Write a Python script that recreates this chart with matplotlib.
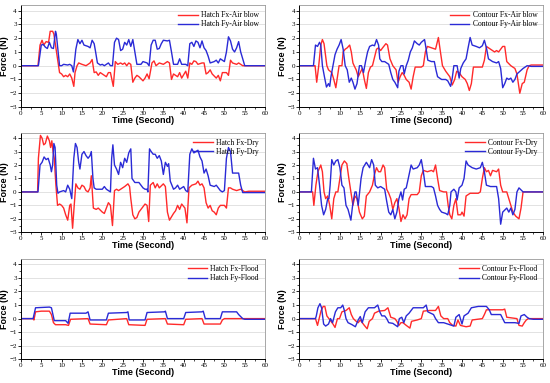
import numpy as np
import matplotlib.pyplot as plt
from matplotlib.ticker import MultipleLocator

# (time, force) points
hatch_air_fx = [(0,0),(4.2,0),(4.7,1.5),(5.2,1.85),(5.6,1.5),(6.2,1.75),(6.8,1.7),(7.2,2.5),(7.8,2.5),(8.1,2.3),
    (9.5,-0.5),(10,-0.6),(10.5,-0.8),(11,-0.7),(11.5,-0.8),(12,-0.6),(12.5,-0.9),(13,-1.5),(13.3,-0.5),(13.8,0.0),
    (14.2,0.2),(15,0.1),(16,0.0),(17,0.2),(17.5,0.45),(18,-0.5),(18.5,-0.45),(19,-0.7),(19.5,-0.5),(20,-0.6),(21,-0.8),
    (21.5,-0.5),(22,-0.5),(22.7,-1.5),(23.2,0.3),(23.8,0.1),(24.5,0.2),(25,0.1),(25.5,0.2),(26,0.0),(26.5,0.2),(27,0.1),
    (27.5,-1.2),(28,-0.9),(28.5,-0.7),(29,-0.8),(30,-1.1),(30.5,-0.9),(31,-0.6),(31.5,-0.95),(32.2,0.2),(32.7,0.35),
    (33.2,0.0),(34,0.2),(35,0.1),(36,0.3),(36.5,0.2),(37,-1.0),(37.5,-0.6),(38,-0.7),(38.5,-0.8),(39,-0.5),(39.5,-0.9),
    (40.5,-0.4),(41,-0.9),(41.5,0.2),(42,0.1),(42.5,0.35),(43,0.3),(43.5,0.1),(44.5,0.2),(45,0.2),(45.5,-0.6),(46,-0.5),
    (46.5,-0.3),(47,-0.6),(48,-0.9),(48.5,-0.7),(49,-1.1),(49.5,-0.5),(50.5,-0.5),(51,-0.7),(51.5,0.4),(52,0.2),(53,0.1),
    (53.5,0.2),(54.5,0.0),(60,0.0)]
hatch_air_fy = [(0,0),(4.3,0),(5,1.5),(5.5,1.55),(6,1.35),(6.5,1.25),(7,1.7),(7.5,1.3),(8,1.25),(8.5,2.5),(8.7,2.3),
    (9.5,0.0),(10,0.0),(10.5,0.1),(11.5,0.05),(12,0.1),(12.5,0.0),(12.9,-0.45),(13.5,1.2),(14,1.9),(14.5,1.6),(15,1.85),
    (15.5,1.5),(16.5,1.4),(17,1.3),(17.5,1.85),(18,1.6),(18.3,1.1),(18.8,0.2),(19.5,0.05),(20,0.1),(20.5,0.0),(21.5,0.2),
    (22,0.0),(22.5,0.0),(23,1.7),(23.5,2.0),(24,1.9),(24.5,1.1),(25,1.2),(25.5,1.7),(26,1.5),(26.5,1.9),(27,1.4),(27.5,1.9),
    (28,1.0),(28.5,0.1),(29.5,0.1),(30,0.3),(31,0.2),(31.5,0.0),(32,1.5),(32.5,1.85),(33,1.85),(33.5,1.2),(34,1.25),
    (34.5,1.6),(35,1.85),(36,1.8),(36.5,1.85),(37,1.0),(37.5,0.1),(38.5,0.1),(39,0.5),(39.5,0.1),(40.5,0.1),(41,0.0),
    (41.5,1.6),(42,1.7),(42.5,1.4),(43,1.8),(43.5,1.7),(44,1.3),(44.5,1.8),(45,1.3),(45.5,1.1),(46,0.7),(46.5,0.2),
    (47.5,0.3),(48,0.4),(48.5,0.2),(49,0.5),(50,0.3),(50.5,1.0),(51,2.1),(51.5,1.8),(52,1.2),(52.5,1.0),(53,1.3),
    (53.5,1.75),(54,1.0),(55,0.0),(60,0.0)]

contour_air_fx = [(0,0),(3.7,0),(3.9,0.0),(4.3,-1.2),(4.8,0.0),(5.3,1.5),(5.7,1.9),(6.1,1.6),(6.8,0.0),(7.2,-0.3),(8,-0.5),
    (8.5,-1.0),(9,-1.6),(9.4,-0.8),(9.8,0.0),(10.5,0.0),(10.8,1.0),(11.3,1.2),(11.8,1.3),(12.4,1.5),(12.8,1.0),(13.2,0.2),
    (13.5,0.0),(14,-0.3),(14.5,-0.8),(15,-0.5),(15.5,-0.2),(16,-1.0),(16.5,-1.65),(17,-0.5),(17.5,-0.1),(18,0.0),(18.5,0.6),
    (19,1.2),(19.5,1.3),(20,1.1),(20.5,1.3),(21.3,1.6),(21.7,1.5),(22.3,0.5),(23,0.0),(23.8,-0.3),(24.3,-1.2),(24.8,-0.8),
    (25.3,-0.5),(25.8,-0.7),(26.3,-1.0),(27,-1.2),(27.5,-1.7),(28,-0.8),(28.5,-0.1),(30,-0.1),(30.5,0.0),(31,1.0),(31.5,1.4),
    (32.5,1.3),(33.5,1.2),(34.2,2.05),(34.7,1.0),(35.2,0.0),(36,-0.4),(37,-0.8),(37.6,-1.4),(38.2,-1.0),(38.7,-0.4),
    (39.3,-0.5),(40,-0.8),(40.8,-1.0),(41.3,-1.3),(41.8,-1.8),(42.3,-1.3),(42.8,-0.1),(45,-0.1),(45.5,0.4),(46,1.4),(47,1.2),
    (48,1.0),(48.5,1.1),(49,1.0),(50,1.4),(50.5,1.4),(51,0.3),(52,0.0),(53,-0.2),(53.5,-0.6),(54.2,-2.0),(54.8,-1.3),
    (55.3,-1.2),(56,-0.3),(56.5,0.0),(57,0.05),(60,0.05)]
contour_air_fy = [(0,0),(3.5,0),(4,1.5),(4.5,1.4),(5,1.7),(5.3,1.5),(5.7,0.0),(6.2,-0.8),(6.7,-1.55),(7.2,-1.3),(7.5,-1.5),
    (7.8,-0.8),(8.3,0.0),(8.8,0.8),(9.3,1.2),(9.8,1.5),(10.3,1.9),(10.8,1.2),(11.3,0.0),(11.8,-0.3),(12.3,-1.2),(12.8,-0.9),
    (13.2,-1.2),(13.7,-1.7),(14.2,-1.3),(14.8,0.0),(15.3,0.0),(15.8,-0.5),(16.3,0.3),(16.8,1.0),(17.3,1.4),(18,1.5),
    (18.5,1.45),(19,1.9),(19.5,1.5),(19.8,0.5),(20.3,0.3),(21,0.3),(22,0.1),(22.5,-0.5),(23,-1.0),(23.5,-1.2),(24.2,-1.6),
    (24.5,-0.4),(25,0.0),(25.5,0.0),(25.8,-0.6),(26.3,0.0),(26.8,0.4),(27.3,1.0),(27.8,1.3),(28.3,1.8),(29,1.6),(29.5,1.5),
    (30,1.7),(30.8,1.9),(31.2,1.2),(31.6,0.4),(32.5,0.3),(33.2,0.3),(33.6,-0.3),(34,-0.8),(35,-1.0),(36,-1.0),(36.5,-1.1),
    (37.2,-1.5),(37.6,-0.9),(38,0.0),(38.8,0.0),(39.3,-0.9),(39.7,-0.2),(40.3,0.2),(41,0.5),(41.5,1.3),(42,2.05),(42.5,1.5),
    (43.5,1.4),(44.3,1.3),(45,1.45),(45.5,1.85),(46,1.3),(46.5,0.5),(47.5,0.3),(48.5,0.2),(49,0.3),(49.5,-0.2),(50,-1.6),
    (50.5,-1.3),(51,-0.9),(51.5,-1.0),(52,-0.9),(52.5,-1.2),(53,-1.0),(53.5,-0.6),(55,-0.2),(56,0.0),(57,-0.05),(60,-0.05)]

hatch_dry_fx = [(0,0),(4.1,0),(4.3,2.5),(4.8,4.2),(5.2,4.0),(5.6,3.5),(6,3.6),(6.5,4.15),(7,3.8),(7.3,3.3),(7.6,3.8),
    (7.9,3.0),(8.2,2.5),(8.6,0.5),(9,-1.0),(9.5,-0.9),(10,-1.0),(10.5,-1.2),(11,-1.7),(11.5,-2.1),(12,-1.0),(12.3,-0.9),
    (12.7,-2.7),(13.1,-1.0),(13.5,0.6),(14,0.3),(14.5,0.2),(15,0.5),(15.5,0.4),(16,0.1),(16.5,0.0),(17,0.3),(17.3,1.2),
    (17.8,-1.2),(18.5,-1.3),(19,-1.2),(20,-1.5),(20.5,-1.6),(21,-1.2),(21.5,-0.8),(22,-1.0),(22.5,-2.5),(23,0.1),(23.5,0.2),
    (24,0.1),(24.5,0.2),(25,0.3),(25.5,0.4),(26.3,0.6),(26.7,0.4),(27,-0.5),(27.5,-1.7),(28,-2.0),(28.5,-1.9),(29,-1.5),
    (29.5,-1.3),(30,-1.1),(30.5,-0.9),(31,-1.0),(31.4,-2.2),(31.8,0.5),(32.5,0.7),(33,0.3),(33.5,0.6),(34,0.3),(35,0.6),
    (35.5,0.4),(36,-1.5),(36.5,-2.1),(37.5,-1.6),(38,-1.4),(38.5,-1.0),(39,-1.3),(39.5,-0.9),(40.3,-1.2),(40.8,-2.3),
    (41.3,0.3),(42,0.5),(43,0.6),(43.5,0.8),(44,0.5),(44.5,0.6),(45,0.3),(45.5,-0.8),(46,-1.2),(46.5,-1.0),(47,-1.4),
    (47.5,-1.5),(48,-1.7),(48.5,-1.2),(49,-1.0),(50,-1.0),(50.5,-1.2),(51,0.3),(51.5,0.3),(52,0.2),(53,0.1),(54,0.2),
    (55,0.0),(56,0.05),(60,0.05)]
hatch_dry_fy = [(0,0),(4.2,0),(4.7,2.0),(5.2,2.2),(5.7,2.6),(6.2,2.4),(6.7,2.5),(7.2,2.0),(7.5,1.5),(7.8,2.0),(8.1,3.6),
    (8.4,3.3),(8.8,0.5),(9.1,-0.1),(9.5,0.0),(10.5,0.1),(11,0.0),(11.5,0.5),(12,0.2),(12.5,-0.5),(13,2.5),(13.4,3.6),
    (13.8,3.3),(14.2,2.2),(14.5,1.7),(15,2.8),(15.5,3.0),(16,2.7),(16.5,2.5),(17,2.7),(17.3,3.0),(17.7,1.0),(18,0.3),
    (18.5,0.2),(19.5,0.2),(20,0.2),(20.5,0.4),(21,0.2),(21.5,0.1),(22,0.0),(22.3,2.5),(22.6,3.5),(23,2.0),(23.5,1.7),
    (24,1.3),(24.5,2.2),(25,1.8),(25.5,2.5),(26,2.2),(26.5,2.9),(27,3.2),(27.3,1.0),(28,0.7),(29,0.7),(29.5,0.5),(30,0.3),
    (30.5,0.2),(31,0.2),(31.2,0.0),(31.6,3.2),(32,3.0),(32.5,2.8),(33,2.8),(33.5,2.5),(34,2.7),(34.5,2.3),(35,1.3),
    (35.5,2.2),(36,1.9),(36.3,2.1),(36.7,0.8),(37.5,0.2),(38,0.3),(38.5,0.5),(39,0.2),(39.5,0.3),(40,0.4),(40.5,0.1),
    (41,0.0),(41.5,2.8),(42,3.2),(42.5,2.9),(43.5,3.1),(44,2.6),(44.5,2.3),(45,1.4),(45.5,1.7),(46,1.2),(46.5,0.5),
    (47.5,0.4),(48,0.5),(49,0.1),(49.5,0.0),(50,0.1),(50.5,2.5),(51,3.3),(51.5,3.0),(52,1.4),(53.5,1.4),(54,0.5),
    (54.5,-0.05),(60,-0.05)]

contour_dry_fx = [(0,0),(3.3,0),(3.6,-1.0),(4.1,0.5),(4.6,1.5),(5.3,2.0),(5.7,1.5),(6.1,0.0),(6.5,-0.5),(7,-0.3),(7.5,-1.0),
    (8,-2.0),(8.5,-0.5),(9,0.0),(9.5,0.0),(10,1.0),(10.5,2.0),(11.1,2.3),(11.7,2.1),(12.2,1.0),(12.7,0.0),(13.2,-1.0),
    (13.7,-0.3),(14.2,-0.5),(14.8,-1.5),(15.5,-2.0),(16,-1.8),(16.5,-0.3),(17.3,0.0),(18,0.5),(18.5,1.3),(19,1.8),(19.5,1.5),
    (20,1.5),(20.6,2.0),(21,1.8),(21.5,0.2),(22,-0.1),(22.5,-0.5),(23,-1.3),(23.5,-0.8),(24,-0.5),(24.5,-1.2),(25,-2.2),
    (25.5,-1.7),(26,-2.0),(26.5,-1.7),(27,-0.5),(27.5,-0.2),(29,-0.2),(29.5,0.0),(30,1.2),(30.5,1.6),(31.5,1.5),(32.5,1.6),
    (33,1.5),(33.5,2.0),(34,1.0),(34.5,0.1),(35.5,0.0),(36.2,0.0),(36.6,-1.0),(37,-1.7),(37.5,-2.0),(38,-1.0),(38.5,-0.5),
    (39,-1.7),(39.7,-1.7),(40,-1.5),(40.5,-1.8),(41,-0.3),(42,-0.1),(44,-0.1),(44.5,0.0),(45,1.0),(45.5,1.8),(46,1.5),
    (46.5,1.6),(47,1.2),(47.5,1.6),(48.5,1.5),(49,1.7),(49.5,0.5),(50,0.0),(51,0.0),(51.5,-0.5),(52,-1.0),(52.5,-1.5),
    (53.2,-1.8),(54,-2.0),(54.5,-1.2),(55,0.0),(60,0.0)]
contour_dry_fy = [(0,0),(3.0,0),(3.5,2.5),(4,1.7),(4.5,1.8),(5,0.5),(5.5,-1.0),(6,-1.7),(6.5,-1.3),(7,-0.5),(7.3,-0.5),
    (7.6,0.5),(8,2.4),(8.5,2.0),(9,2.3),(9.5,2.4),(10,1.8),(10.5,0.5),(11,0.3),(11.5,-1.0),(12,-1.3),(12.7,-2.1),(13.2,-0.8),
    (13.7,0.0),(14,0.0),(14.5,-1.0),(15.2,1.0),(15.7,1.8),(16.5,2.2),(17.3,1.8),(17.8,2.4),(18.3,2.0),(18.7,0.5),(19.3,0.3),
    (20,0.4),(21,0.2),(21.5,-0.7),(22,-1.5),(22.5,-1.7),(23,-1.3),(23.5,-2.0),(24,-1.5),(24.5,-0.5),(25,0.0),(25.4,-0.6),
    (25.8,0.2),(26.3,0.3),(26.8,1.0),(27.5,2.0),(28,1.7),(29,1.8),(29.5,2.0),(30,2.4),(30.5,1.5),(31,0.4),(32.5,0.4),
    (33,0.3),(33.5,-0.3),(34,-1.0),(34.5,-1.3),(35,-1.5),(36,-1.6),(36.5,-1.7),(37,-1.0),(37.3,0.0),(38,0.2),(38.5,0.0),
    (38.8,-0.6),(39.3,0.3),(40,0.5),(40.5,1.0),(41,2.3),(41.5,2.0),(42.5,1.8),(43.5,1.7),(44.5,1.8),(45,2.2),(45.5,1.5),
    (46,0.5),(47,0.4),(48.5,0.4),(49,-0.5),(49.5,-2.4),(50,-1.5),(51,-1.2),(51.5,-1.5),(52,-1.2),(52.5,-1.7),(53,-1.3),
    (53.5,0.0),(54,0.3),(55,0.0),(60,0.0)]

hatch_flood_fx = [(0,0),(3,0),(3.2,-0.1),(3.6,0.5),(5,0.55),(7,0.55),(7.5,0.3),(8,-0.3),(8.5,-0.45),(11,-0.45),(11.7,-0.5),
    (12.2,-0.05),(16.5,0.0),(17,-0.4),(21,-0.45),(21.5,-0.1),(26,0.0),(26.5,-0.45),(30.5,-0.5),(31,-0.05),(35.5,0.0),
    (36,-0.4),(40,-0.45),(40.5,-0.05),(44.5,0.0),(45,-0.4),(49,-0.4),(49.5,-0.1),(50,0.0),(60,0.0)]
hatch_flood_fy = [(0,0),(3,0),(3.6,0.8),(7,0.85),(7.5,0.8),(8.2,-0.15),(11,-0.15),(11.6,-0.35),(12.1,0.4),(16,0.4),
    (16.5,0.5),(17,-0.1),(21,-0.1),(21.5,0.4),(26,0.45),(26.3,0.5),(26.6,-0.1),(30.5,-0.1),(31,0.45),(35.3,0.5),(35.5,0.55),
    (36,0.0),(40,0.0),(40.5,0.45),(44.5,0.5),(44.8,0.55),(45.3,0.0),(49,0.0),(49.5,0.5),(53,0.5),(53.5,0.3),(54.5,0.0),
    (55,-0.05),(60,-0.05)]

contour_flood_fx = [(0,0),(4,0),(4.5,-0.5),(4.9,0.0),(5.4,0.6),(5.9,0.9),(6.3,0.9),(6.8,0.2),(7.3,0.0),(7.8,-0.2),(8.3,-0.4),
    (8.8,-0.65),(9.4,0.0),(9.9,0.0),(10.5,0.5),(11.5,0.6),(12.3,0.8),(12.8,0.3),(13.3,0.0),(14,-0.2),(14.5,-0.3),(15,-0.1),
    (16,-0.5),(16.7,-0.75),(17.2,-0.2),(18,0.0),(18.5,0.4),(19.5,0.55),(21,0.6),(21.8,0.8),(22.5,0.1),(23.5,0.0),(24,-0.2),
    (24.5,-0.5),(25,-0.3),(25.5,-0.3),(26.3,-0.5),(27.2,-0.7),(27.6,-0.2),(29,-0.1),(30,0.0),(30.5,0.55),(32,0.6),
    (33.5,0.6),(34.2,0.9),(34.8,0.2),(35.5,0.0),(36.5,0.0),(37,-0.3),(37.7,-0.5),(38.5,-0.55),(39,-0.1),(39.6,-0.5),
    (41,-0.6),(42,-0.55),(42.5,-0.1),(45,0.0),(45.5,0.3),(46,0.65),(50,0.65),(50.5,0.7),(51,0.1),(53.5,0.0),(54,-0.5),
    (54.8,-0.55),(55.3,-0.3),(55.8,-0.1),(56.3,0.0),(60,0.0)]
contour_flood_fy = [(0,0),(4,0),(4.2,0.2),(4.6,0.8),(5.1,1.1),(5.5,0.8),(6,-0.4),(6.5,-0.55),(7.2,-0.4),(7.7,0.0),(8.2,-0.3),
    (8.9,0.5),(9.5,0.8),(10.2,0.8),(10.7,1.0),(11.1,0.6),(11.5,0.0),(12,-0.3),(13,-0.45),(13.8,-0.6),(14.5,-0.1),(15,0.15),
    (15.5,-0.3),(16.2,0.5),(17,0.8),(18.5,0.8),(19.3,1.0),(19.8,0.5),(20.3,0.2),(21,0.2),(21.5,0.0),(22,-0.3),(23,-0.35),
    (24.2,-0.6),(24.6,0.0),(25.2,0.1),(25.7,-0.3),(26.3,0.2),(27,0.4),(28,0.8),(30.5,0.8),(31.2,1.0),(31.6,0.5),(33,0.3),
    (33.5,0.0),(34.2,-0.3),(35.5,-0.3),(36.5,-0.4),(38,-0.55),(38.5,0.1),(39.3,0.3),(40,-0.4),(40.5,0.2),(41.5,0.4),
    (42.3,0.8),(44,0.9),(46,0.9),(46.7,0.65),(47.2,0.3),(49.5,0.3),(50,0.0),(50.5,-0.3),(53,-0.3),(54,-0.35),(54.5,0.2),
    (55.3,0.3),(56,0.1),(56.5,0.0),(57.5,-0.05),(60,-0.05)]

panels = [
    (hatch_air_fx, hatch_air_fy, "Hatch Fx-Air blow", "Hatch Fy-Air blow"),
    (contour_air_fx, contour_air_fy, "Contour Fx-Air blow", "Contour Fy-Air blow"),
    (hatch_dry_fx, hatch_dry_fy, "Hatch Fx-Dry", "Hatch Fy-Dry"),
    (contour_dry_fx, contour_dry_fy, "Contour Fx-Dry", "Contour Fy-Dry"),
    (hatch_flood_fx, hatch_flood_fy, "Hatch Fx-Flood", "Hatch Fy-Flood"),
    (contour_flood_fx, contour_flood_fy, "Contour Fx-Flood", "Contour Fy-Flood"),
]

fig = plt.figure(figsize=(5.5, 3.83), dpi=100)
lefts = [0.038, 0.544]
rows = [(0.7206, 0.266), (0.3935, 0.260), (0.0619, 0.262)]

for i, (fx, fy, lx, ly) in enumerate(panels):
    b, h = rows[i // 2]
    ax = fig.add_axes([lefts[i % 2], b, 0.444, h])
    tx, vx = np.array(fx).T
    ty, vy = np.array(fy).T
    ax.plot(tx, vx, color='#ff2a2a', lw=1.0, label=lx)
    ax.plot(ty, vy, color='#2a2ad6', lw=1.0, label=ly)
    ax.set_xlim(0, 60)
    ax.set_ylim(-3, 4.4)
    ax.xaxis.set_major_locator(MultipleLocator(5))
    ax.xaxis.set_minor_locator(MultipleLocator(2.5))
    ax.yaxis.set_major_locator(MultipleLocator(1))
    ax.yaxis.set_minor_locator(MultipleLocator(0.5))
    ax.grid(axis='y', color='#dddddd', lw=0.6)
    ax.set_axisbelow(True)
    ax.tick_params(which='major', length=2, width=0.6, labelsize=5, pad=1)
    ax.tick_params(which='minor', length=1.2, width=0.5)
    for lab in ax.get_xticklabels() + ax.get_yticklabels():
        lab.set_fontfamily('Liberation Serif')
    for s in ['top', 'right']:
        ax.spines[s].set_color('#999999')
        ax.spines[s].set_linewidth(0.6)
    for s in ['left', 'bottom']:
        ax.spines[s].set_linewidth(0.7)
    ax.set_xlabel('Time (Second)', fontsize=6.5, fontweight='bold', family='Liberation Sans', labelpad=0)
    ax.set_ylabel('Force (N)', fontsize=6.5, fontweight='bold', family='Liberation Sans')
    ax.yaxis.set_label_coords(-0.05, 0.5)
    ax.legend(loc='upper right', frameon=False, prop={'family': 'Liberation Serif', 'size': 5.5},
              handlelength=2.6, handletextpad=0.4, labelspacing=0.15, borderaxespad=0.4)

plt.savefig('out.png', dpi=100)
